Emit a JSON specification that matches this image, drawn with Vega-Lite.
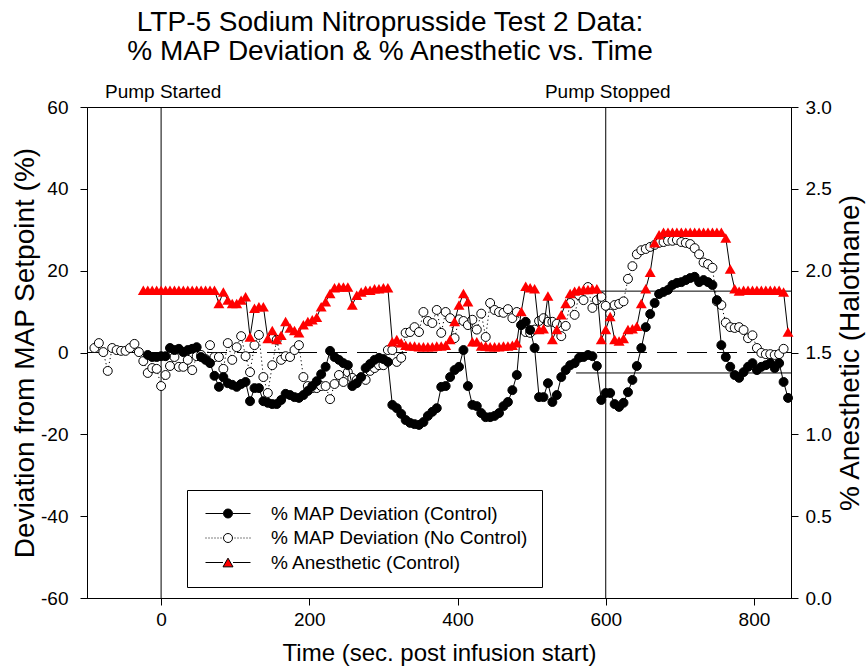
{
"$schema": "https://vega.github.io/schema/vega-lite/v6.json",
"width": 704,
"height": 491,
"autosize": {"type": "none"},
"padding": {"left": 87, "top": 107, "right": 76, "bottom": 72},
"background": "white",
"title": {"text": ["LTP-5 Sodium Nitroprusside Test 2 Data:", "% MAP Deviation & % Anesthetic vs. Time"], "fontSize": 28, "font": "Liberation Sans", "fontWeight": "normal", "color": "black", "anchor": "middle", "dx": -49, "lineHeight": 29, "offset": 17},
"datasets": {
"vlines": [{"t": 0}, {"t": 600}],
"zero": [{"t": -100, "t2": 850, "v": 0}],
"bounds": [{"t": 555, "t2": 850, "v": 15}, {"t": 560, "t2": 850, "v": -5}],
"marks": [{"t": 0, "label": "Pump Started"}, {"t": 600, "label": "Pump Stopped"}],
"legend": [{"s": "% MAP Deviation (Control)", "t": 0, "v": 0}, {"s": "% MAP Deviation (No Control)", "t": 0, "v": 0}, {"s": "% Anesthetic (Control)", "t": 0, "v": 0}],
"ctrl": [{"t":-18,"v":-0.6},{"t":-12,"v":-1.1},{"t":-6,"v":-1.1},{"t":0,"v":-0.9},{"t":6,"v":-0.9},{"t":12,"v":1.1},{"t":18,"v":0.6},{"t":24,"v":0.9},{"t":30,"v":0.1},{"t":36,"v":0.6},{"t":42,"v":0.9},{"t":48,"v":1.3},{"t":54,"v":-1.1},{"t":60,"v":-1.8},{"t":66,"v":-2.6},{"t":72,"v":-5.7},{"t":78,"v":-8.4},{"t":84,"v":-6.0},{"t":90,"v":-7.5},{"t":96,"v":-7.9},{"t":102,"v":-8.4},{"t":108,"v":-7.7},{"t":114,"v":-7.2},{"t":120,"v":-11.9},{"t":126,"v":-8.7},{"t":132,"v":-8.7},{"t":138,"v":-11.9},{"t":144,"v":-12.3},{"t":150,"v":-12.6},{"t":156,"v":-12.6},{"t":162,"v":-11.6},{"t":168,"v":-10.1},{"t":174,"v":-10.4},{"t":180,"v":-10.9},{"t":186,"v":-11.1},{"t":192,"v":-10.4},{"t":198,"v":-9.4},{"t":204,"v":-8.2},{"t":210,"v":-7.0},{"t":216,"v":-5.3},{"t":222,"v":-3.5},{"t":228,"v":0.4},{"t":234,"v":-1.1},{"t":240,"v":-1.8},{"t":246,"v":-2.6},{"t":252,"v":-3.1},{"t":258,"v":-8.2},{"t":264,"v":-7.5},{"t":270,"v":-6.0},{"t":276,"v":-3.8},{"t":282,"v":-2.8},{"t":288,"v":-1.8},{"t":294,"v":-1.3},{"t":300,"v":-1.6},{"t":306,"v":-2.3},{"t":312,"v":-12.8},{"t":318,"v":-13.6},{"t":324,"v":-15.0},{"t":330,"v":-16.5},{"t":336,"v":-17.2},{"t":342,"v":-17.5},{"t":348,"v":-17.7},{"t":354,"v":-17.0},{"t":360,"v":-15.5},{"t":366,"v":-14.5},{"t":372,"v":-13.6},{"t":378,"v":-8.4},{"t":384,"v":-8.2},{"t":390,"v":-6.0},{"t":396,"v":-4.3},{"t":402,"v":-3.5},{"t":408,"v":0.6},{"t":414,"v":-8.2},{"t":420,"v":-12.8},{"t":426,"v":-13.1},{"t":432,"v":-14.8},{"t":438,"v":-15.8},{"t":444,"v":-15.8},{"t":450,"v":-15.5},{"t":456,"v":-14.8},{"t":462,"v":-13.1},{"t":468,"v":-12.1},{"t":474,"v":-9.2},{"t":480,"v":-5.5},{"t":486,"v":6.7},{"t":492,"v":7.5},{"t":498,"v":5.5},{"t":504,"v":1.1},{"t":510,"v":-10.9},{"t":516,"v":-10.9},{"t":522,"v":-7.5},{"t":528,"v":-12.1},{"t":534,"v":-10.4},{"t":540,"v":-6.0},{"t":546,"v":-4.3},{"t":552,"v":-3.1},{"t":558,"v":-2.6},{"t":564,"v":-1.3},{"t":570,"v":-1.1},{"t":576,"v":-0.6},{"t":582,"v":-0.9},{"t":588,"v":-3.3},{"t":594,"v":-11.6},{"t":600,"v":-9.9},{"t":606,"v":-9.9},{"t":612,"v":-12.6},{"t":618,"v":-13.3},{"t":624,"v":-12.3},{"t":630,"v":-9.7},{"t":636,"v":-6.7},{"t":642,"v":-3.3},{"t":648,"v":1.1},{"t":654,"v":6.2},{"t":660,"v":9.4},{"t":666,"v":12.1},{"t":672,"v":14.3},{"t":678,"v":14.8},{"t":684,"v":15.3},{"t":690,"v":16.5},{"t":696,"v":17.0},{"t":702,"v":17.2},{"t":708,"v":17.7},{"t":714,"v":18.2},{"t":720,"v":18.5},{"t":726,"v":17.2},{"t":732,"v":17.7},{"t":738,"v":17.2},{"t":744,"v":16.5},{"t":750,"v":12.8},{"t":756,"v":1.8},{"t":762,"v":-1.1},{"t":768,"v":-3.5},{"t":774,"v":-5.5},{"t":780,"v":-6.2},{"t":786,"v":-4.8},{"t":792,"v":-3.5},{"t":798,"v":-2.6},{"t":804,"v":-4.3},{"t":810,"v":-3.5},{"t":816,"v":-3.1},{"t":822,"v":-2.6},{"t":828,"v":-3.8},{"t":834,"v":-2.6},{"t":840,"v":-7.2},{"t":846,"v":-11.1}],
"nc": [{"t":-90,"v":1.1},{"t":-84,"v":2.3},{"t":-78,"v":0.1},{"t":-72,"v":-4.5},{"t":-66,"v":1.1},{"t":-60,"v":0.6},{"t":-54,"v":0.4},{"t":-48,"v":0.4},{"t":-42,"v":1.1},{"t":-36,"v":2.1},{"t":-30,"v":0.1},{"t":-24,"v":-2.1},{"t":-18,"v":-5.0},{"t":-12,"v":-3.8},{"t":-6,"v":-4.0},{"t":0,"v":-8.2},{"t":6,"v":-5.5},{"t":12,"v":-3.3},{"t":18,"v":-1.1},{"t":24,"v":-3.5},{"t":30,"v":-3.5},{"t":36,"v":-1.8},{"t":42,"v":-4.3},{"t":48,"v":-0.9},{"t":54,"v":-0.6},{"t":60,"v":-1.6},{"t":66,"v":1.8},{"t":72,"v":-1.1},{"t":78,"v":-1.1},{"t":84,"v":-4.0},{"t":90,"v":2.3},{"t":96,"v":-1.8},{"t":102,"v":1.3},{"t":108,"v":4.0},{"t":114,"v":-0.9},{"t":120,"v":-4.8},{"t":126,"v":1.8},{"t":132,"v":4.3},{"t":138,"v":-6.0},{"t":144,"v":-9.9},{"t":150,"v":-3.1},{"t":156,"v":3.1},{"t":162,"v":-1.8},{"t":168,"v":-0.9},{"t":174,"v":-1.1},{"t":180,"v":0.6},{"t":186,"v":1.8},{"t":192,"v":-6.0},{"t":198,"v":-8.2},{"t":204,"v":-8.7},{"t":210,"v":-8.7},{"t":216,"v":-8.2},{"t":222,"v":-8.2},{"t":228,"v":-11.4},{"t":234,"v":-7.7},{"t":240,"v":-5.5},{"t":246,"v":-7.2},{"t":252,"v":-4.8},{"t":258,"v":-6.2},{"t":264,"v":-6.7},{"t":270,"v":-6.2},{"t":276,"v":-6.7},{"t":282,"v":-4.5},{"t":288,"v":-3.8},{"t":294,"v":-3.1},{"t":300,"v":-3.1},{"t":306,"v":0.6},{"t":312,"v":0.6},{"t":318,"v":-2.3},{"t":324,"v":-1.3},{"t":330,"v":4.8},{"t":336,"v":5.0},{"t":342,"v":6.2},{"t":348,"v":5.0},{"t":354,"v":9.9},{"t":360,"v":7.7},{"t":366,"v":7.2},{"t":372,"v":10.4},{"t":378,"v":4.8},{"t":384,"v":9.9},{"t":390,"v":8.4},{"t":396,"v":3.5},{"t":402,"v":8.1},{"t":408,"v":7.7},{"t":414,"v":6.7},{"t":420,"v":8.0},{"t":426,"v":5.6},{"t":432,"v":9.5},{"t":438,"v":3.8},{"t":444,"v":12.1},{"t":450,"v":10.4},{"t":456,"v":9.9},{"t":462,"v":9.7},{"t":468,"v":10.6},{"t":474,"v":8.4},{"t":480,"v":9.9},{"t":486,"v":6.7},{"t":492,"v":5.0},{"t":498,"v":4.8},{"t":504,"v":5.6},{"t":510,"v":7.7},{"t":516,"v":8.4},{"t":522,"v":7.5},{"t":528,"v":7.5},{"t":534,"v":7.0},{"t":540,"v":4.0},{"t":546,"v":6.5},{"t":552,"v":12.1},{"t":558,"v":9.2},{"t":564,"v":14.0},{"t":570,"v":12.8},{"t":576,"v":16.0},{"t":582,"v":10.9},{"t":588,"v":12.8},{"t":594,"v":13.6},{"t":600,"v":11.4},{"t":606,"v":9.5},{"t":612,"v":11.6},{"t":618,"v":11.9},{"t":624,"v":12.5},{"t":630,"v":18.0},{"t":636,"v":21.1},{"t":642,"v":24.0},{"t":648,"v":25.0},{"t":654,"v":25.3},{"t":660,"v":25.8},{"t":666,"v":26.3},{"t":672,"v":26.8},{"t":678,"v":27.0},{"t":684,"v":27.3},{"t":690,"v":27.3},{"t":696,"v":27.5},{"t":702,"v":27.0},{"t":708,"v":26.8},{"t":714,"v":26.5},{"t":720,"v":25.5},{"t":726,"v":24.0},{"t":732,"v":22.0},{"t":738,"v":21.6},{"t":744,"v":20.7},{"t":750,"v":12.5},{"t":756,"v":11.6},{"t":762,"v":7.3},{"t":768,"v":6.2},{"t":774,"v":6.0},{"t":780,"v":6.2},{"t":786,"v":5.5},{"t":792,"v":3.5},{"t":798,"v":4.2},{"t":804,"v":1.1},{"t":810,"v":-0.1},{"t":816,"v":-0.4},{"t":822,"v":-0.4},{"t":828,"v":-0.6},{"t":834,"v":-0.4},{"t":840,"v":0.9}],
"an": [{"t":-24,"v":1.88},{"t":-18,"v":1.88},{"t":-12,"v":1.88},{"t":-6,"v":1.88},{"t":0,"v":1.88},{"t":6,"v":1.88},{"t":12,"v":1.88},{"t":18,"v":1.88},{"t":24,"v":1.88},{"t":30,"v":1.88},{"t":36,"v":1.88},{"t":42,"v":1.88},{"t":48,"v":1.88},{"t":54,"v":1.88},{"t":60,"v":1.88},{"t":66,"v":1.88},{"t":72,"v":1.88},{"t":78,"v":1.80},{"t":84,"v":1.87},{"t":90,"v":1.82},{"t":96,"v":1.80},{"t":102,"v":1.80},{"t":108,"v":1.82},{"t":114,"v":1.84},{"t":120,"v":1.595},{"t":126,"v":1.77},{"t":132,"v":1.78},{"t":138,"v":1.78},{"t":144,"v":1.585},{"t":150,"v":1.635},{"t":156,"v":1.58},{"t":162,"v":1.605},{"t":168,"v":1.69},{"t":174,"v":1.65},{"t":180,"v":1.635},{"t":186,"v":1.62},{"t":192,"v":1.67},{"t":198,"v":1.69},{"t":204,"v":1.70},{"t":210,"v":1.715},{"t":216,"v":1.78},{"t":222,"v":1.81},{"t":228,"v":1.86},{"t":234,"v":1.895},{"t":240,"v":1.90},{"t":246,"v":1.90},{"t":252,"v":1.90},{"t":258,"v":1.79},{"t":264,"v":1.85},{"t":270,"v":1.87},{"t":276,"v":1.88},{"t":282,"v":1.88},{"t":288,"v":1.89},{"t":294,"v":1.89},{"t":300,"v":1.895},{"t":306,"v":1.895},{"t":312,"v":1.565},{"t":318,"v":1.58},{"t":324,"v":1.56},{"t":330,"v":1.545},{"t":336,"v":1.54},{"t":342,"v":1.54},{"t":348,"v":1.535},{"t":354,"v":1.535},{"t":360,"v":1.535},{"t":366,"v":1.535},{"t":372,"v":1.54},{"t":378,"v":1.54},{"t":384,"v":1.545},{"t":390,"v":1.58},{"t":396,"v":1.69},{"t":402,"v":1.79},{"t":408,"v":1.86},{"t":414,"v":1.81},{"t":420,"v":1.565},{"t":426,"v":1.565},{"t":432,"v":1.54},{"t":438,"v":1.54},{"t":444,"v":1.535},{"t":450,"v":1.535},{"t":456,"v":1.535},{"t":462,"v":1.54},{"t":468,"v":1.54},{"t":474,"v":1.545},{"t":480,"v":1.56},{"t":486,"v":1.75},{"t":492,"v":1.905},{"t":498,"v":1.895},{"t":504,"v":1.89},{"t":510,"v":1.64},{"t":516,"v":1.645},{"t":522,"v":1.845},{"t":528,"v":1.58},{"t":534,"v":1.64},{"t":540,"v":1.73},{"t":546,"v":1.80},{"t":552,"v":1.86},{"t":558,"v":1.875},{"t":564,"v":1.88},{"t":570,"v":1.885},{"t":576,"v":1.885},{"t":582,"v":1.89},{"t":588,"v":1.89},{"t":594,"v":1.58},{"t":600,"v":1.64},{"t":606,"v":1.72},{"t":612,"v":1.58},{"t":618,"v":1.57},{"t":624,"v":1.585},{"t":630,"v":1.64},{"t":636,"v":1.645},{"t":642,"v":1.66},{"t":648,"v":1.80},{"t":654,"v":1.89},{"t":660,"v":1.99},{"t":666,"v":2.17},{"t":672,"v":2.22},{"t":678,"v":2.235},{"t":684,"v":2.235},{"t":690,"v":2.235},{"t":696,"v":2.235},{"t":702,"v":2.235},{"t":708,"v":2.235},{"t":714,"v":2.235},{"t":720,"v":2.235},{"t":726,"v":2.235},{"t":732,"v":2.235},{"t":738,"v":2.235},{"t":744,"v":2.235},{"t":750,"v":2.235},{"t":756,"v":2.235},{"t":762,"v":2.20},{"t":768,"v":2.01},{"t":774,"v":1.89},{"t":780,"v":1.875},{"t":786,"v":1.88},{"t":792,"v":1.88},{"t":798,"v":1.88},{"t":804,"v":1.88},{"t":810,"v":1.88},{"t":816,"v":1.88},{"t":822,"v":1.88},{"t":828,"v":1.88},{"t":834,"v":1.88},{"t":840,"v":1.87},{"t":846,"v":1.625}]
},
"encoding": {
"x": {"field": "t", "type": "quantitative", "scale": {"domain": [-100, 850], "nice": false, "zero": false}, "axis": {"values": [0, 200, 400, 600, 800], "titleY": 62, "titleBaseline": "alphabetic", "titleFontSize": 24, "labelPadding": 5}, "title": "Time (sec. post infusion start)"}
},
"layer": [
{
"layer": [
{"data": {"name": "vlines"}, "mark": {"type": "rule", "color": "black", "strokeWidth": 1}, "encoding": {}},
{"data": {"name": "zero"}, "mark": {"type": "rule", "color": "black", "strokeWidth": 1, "strokeDash": [20, 10]},
 "encoding": {"x2": {"field": "t2"}, "y": {"field": "v", "type": "quantitative", "scale": {"domain": [-60, 60], "nice": false, "zero": false}, "axis": {"values": [-60, -40, -20, 0, 20, 40, 60], "labelExpr": "datum.value < 0 ? '-' + format(-datum.value, 'd') : format(datum.value, 'd')", "titleX": -54, "titleBaseline": "alphabetic", "titleFontSize": 28, "labelPadding": 12}, "title": "Deviation from MAP Setpoint (%)"}}},
{"data": {"name": "bounds"}, "mark": {"type": "rule", "color": "black", "strokeWidth": 1},
 "encoding": {"x2": {"field": "t2"}, "y": {"field": "v", "type": "quantitative", "scale": {"domain": [-60, 60], "nice": false, "zero": false}, "axis": {"values": [-60, -40, -20, 0, 20, 40, 60], "labelExpr": "datum.value < 0 ? '-' + format(-datum.value, 'd') : format(datum.value, 'd')", "titleX": -54, "titleBaseline": "alphabetic", "titleFontSize": 28, "labelPadding": 12}, "title": "Deviation from MAP Setpoint (%)"}}},
{"data": {"name": "marks"}, "mark": {"type": "text", "fontSize": 19, "font": "Liberation Sans", "color": "black", "align": "center", "baseline": "alphabetic", "dy": -9, "dx": 2},
 "encoding": {"text": {"field": "label"}, "y": {"datum": 60, "type": "quantitative", "scale": {"domain": [-60, 60], "nice": false, "zero": false}, "axis": {"values": [-60, -40, -20, 0, 20, 40, 60], "labelExpr": "datum.value < 0 ? '-' + format(-datum.value, 'd') : format(datum.value, 'd')", "titleX": -54, "titleBaseline": "alphabetic", "titleFontSize": 28, "labelPadding": 12}, "title": "Deviation from MAP Setpoint (%)"}}},
{"data": {"name": "legend"}, "mark": {"type": "point", "filled": true, "size": 0, "opacity": 0, "strokeWidth": 1},
 "encoding": {"y": {"field": "v", "type": "quantitative", "scale": {"domain": [-60, 60], "nice": false, "zero": false}, "axis": {"values": [-60, -40, -20, 0, 20, 40, 60], "labelExpr": "datum.value < 0 ? '-' + format(-datum.value, 'd') : format(datum.value, 'd')", "titleX": -54, "titleBaseline": "alphabetic", "titleFontSize": 28, "labelPadding": 12}, "title": "Deviation from MAP Setpoint (%)"},
  "shape": {"field": "s", "type": "nominal", "scale": {"domain": ["% MAP Deviation (Control)", "% MAP Deviation (No Control)", "% Anesthetic (Control)"], "range": ["M-1,0H2.6M4.4,0H8M2.6,0C2.6,-0.497 3.003,-0.9 3.5,-0.9C3.997,-0.9 4.4,-0.497 4.4,0C4.4,0.497 3.997,0.9 3.5,0.9C3.003,0.9 2.6,0.497 2.6,0Z", "M-1,0H-0.8M-0.4,0H-0.2M0.2,0H0.4M0.8,0H1M1.4,0H1.6M2,0H2.2M4.8,0H5M5.4,0H5.6M6,0H6.2M6.6,0H6.8M7.2,0H7.4M7.8,0H8M2.6,0C2.6,-0.497 3.003,-0.9 3.5,-0.9C3.997,-0.9 4.4,-0.497 4.4,0C4.4,0.497 3.997,0.9 3.5,0.9C3.003,0.9 2.6,0.497 2.6,0Z", "M-1,0H2.5M4.5,0H8M3.5,-0.87L4.5,0.87L2.5,0.87Z"]},
   "legend": {"orient": "none", "legendX": 100, "legendY": 383, "title": null, "padding": 14, "strokeColor": "black", "fillColor": "white", "cornerRadius": 0, "symbolSize": 100, "symbolOpacity": 1, "symbolStrokeWidth": 1, "labelOffset": 51, "labelFontSize": 19, "labelFont": "Liberation Sans", "labelColor": "black", "labelLimit": 400, "rowPadding": 4.5}},
  "fill": {"field": "s", "type": "nominal", "scale": {"domain": ["% MAP Deviation (Control)", "% MAP Deviation (No Control)", "% Anesthetic (Control)"], "range": ["black", "white", "#ff0000"]},
   "legend": {"orient": "none", "legendX": 100, "legendY": 383, "title": null, "padding": 14, "strokeColor": "black", "fillColor": "white", "cornerRadius": 0, "symbolSize": 100, "symbolOpacity": 1, "symbolStrokeWidth": 1, "labelOffset": 51, "labelFontSize": 19, "labelFont": "Liberation Sans", "labelColor": "black", "labelLimit": 400, "rowPadding": 4.5}},
  "stroke": {"field": "s", "type": "nominal", "scale": {"domain": ["% MAP Deviation (Control)", "% MAP Deviation (No Control)", "% Anesthetic (Control)"], "range": ["black", "black", "black"]},
   "legend": {"orient": "none", "legendX": 100, "legendY": 383, "title": null, "padding": 14, "strokeColor": "black", "fillColor": "white", "cornerRadius": 0, "symbolSize": 100, "symbolOpacity": 1, "symbolStrokeWidth": 1, "labelOffset": 51, "labelFontSize": 19, "labelFont": "Liberation Sans", "labelColor": "black", "labelLimit": 400, "rowPadding": 4.5}}}},
{"data": {"name": "nc"}, "mark": {"type": "line", "color": "black", "strokeWidth": 1, "strokeDash": [1.2, 2.8]},
 "encoding": {"y": {"field": "v", "type": "quantitative", "scale": {"domain": [-60, 60], "nice": false, "zero": false}, "axis": {"values": [-60, -40, -20, 0, 20, 40, 60], "labelExpr": "datum.value < 0 ? '-' + format(-datum.value, 'd') : format(datum.value, 'd')", "titleX": -54, "titleBaseline": "alphabetic", "titleFontSize": 28, "labelPadding": 12}, "title": "Deviation from MAP Setpoint (%)"}}},
{"data": {"name": "nc"}, "mark": {"type": "point", "shape": "circle", "filled": true, "fill": "white", "size": 80, "stroke": "black", "strokeWidth": 1, "opacity": 1},
 "encoding": {"y": {"field": "v", "type": "quantitative", "scale": {"domain": [-60, 60], "nice": false, "zero": false}, "axis": {"values": [-60, -40, -20, 0, 20, 40, 60], "labelExpr": "datum.value < 0 ? '-' + format(-datum.value, 'd') : format(datum.value, 'd')", "titleX": -54, "titleBaseline": "alphabetic", "titleFontSize": 28, "labelPadding": 12}, "title": "Deviation from MAP Setpoint (%)"}}},
{"data": {"name": "ctrl"}, "mark": {"type": "line", "color": "black", "strokeWidth": 1},
 "encoding": {"y": {"field": "v", "type": "quantitative", "scale": {"domain": [-60, 60], "nice": false, "zero": false}, "axis": {"values": [-60, -40, -20, 0, 20, 40, 60], "labelExpr": "datum.value < 0 ? '-' + format(-datum.value, 'd') : format(datum.value, 'd')", "titleX": -54, "titleBaseline": "alphabetic", "titleFontSize": 28, "labelPadding": 12}, "title": "Deviation from MAP Setpoint (%)"}}},
{"data": {"name": "ctrl"}, "mark": {"type": "point", "shape": "circle", "filled": true, "fill": "black", "size": 80, "stroke": "black", "strokeWidth": 1, "opacity": 1},
 "encoding": {"y": {"field": "v", "type": "quantitative", "scale": {"domain": [-60, 60], "nice": false, "zero": false}, "axis": {"values": [-60, -40, -20, 0, 20, 40, 60], "labelExpr": "datum.value < 0 ? '-' + format(-datum.value, 'd') : format(datum.value, 'd')", "titleX": -54, "titleBaseline": "alphabetic", "titleFontSize": 28, "labelPadding": 12}, "title": "Deviation from MAP Setpoint (%)"}}}
]
},
{
"layer": [
{"data": {"name": "an"}, "mark": {"type": "line", "color": "black", "strokeWidth": 1},
 "encoding": {"y": {"field": "v", "type": "quantitative", "scale": {"domain": [0, 3], "nice": false, "zero": false}, "axis": {"orient": "right", "values": [0, 0.5, 1, 1.5, 2, 2.5, 3], "format": ".1f", "titleAngle": -90, "titleX": 67, "titleBaseline": "alphabetic", "titleFontSize": 28, "labelPadding": 7}, "title": "% Anesthetic (Halothane)"}}},
{"data": {"name": "an"}, "mark": {"type": "point", "shape": "triangle-up", "filled": true, "fill": "#ff0000", "size": 120, "strokeWidth": 0, "opacity": 1},
 "encoding": {"y": {"field": "v", "type": "quantitative", "scale": {"domain": [0, 3], "nice": false, "zero": false}, "axis": {"orient": "right", "values": [0, 0.5, 1, 1.5, 2, 2.5, 3], "format": ".1f", "titleAngle": -90, "titleX": 67, "titleBaseline": "alphabetic", "titleFontSize": 28, "labelPadding": 7}, "title": "% Anesthetic (Halothane)"}}}
]
}
],
"resolve": {"scale": {"y": "independent"}},
"config": {
"view": {"stroke": "black", "strokeWidth": 1},
"font": "Liberation Sans",
"axis": {"domainColor": "black", "domainWidth": 1, "tickColor": "black", "tickWidth": 1, "tickSize": 7, "labelColor": "black", "titleColor": "black", "labelFont": "Liberation Sans", "titleFont": "Liberation Sans", "labelFontSize": 19, "titleFontSize": 23, "titleFontWeight": "normal", "grid": false, "labelFlush": false, "labelOverlap": false}
}
}
